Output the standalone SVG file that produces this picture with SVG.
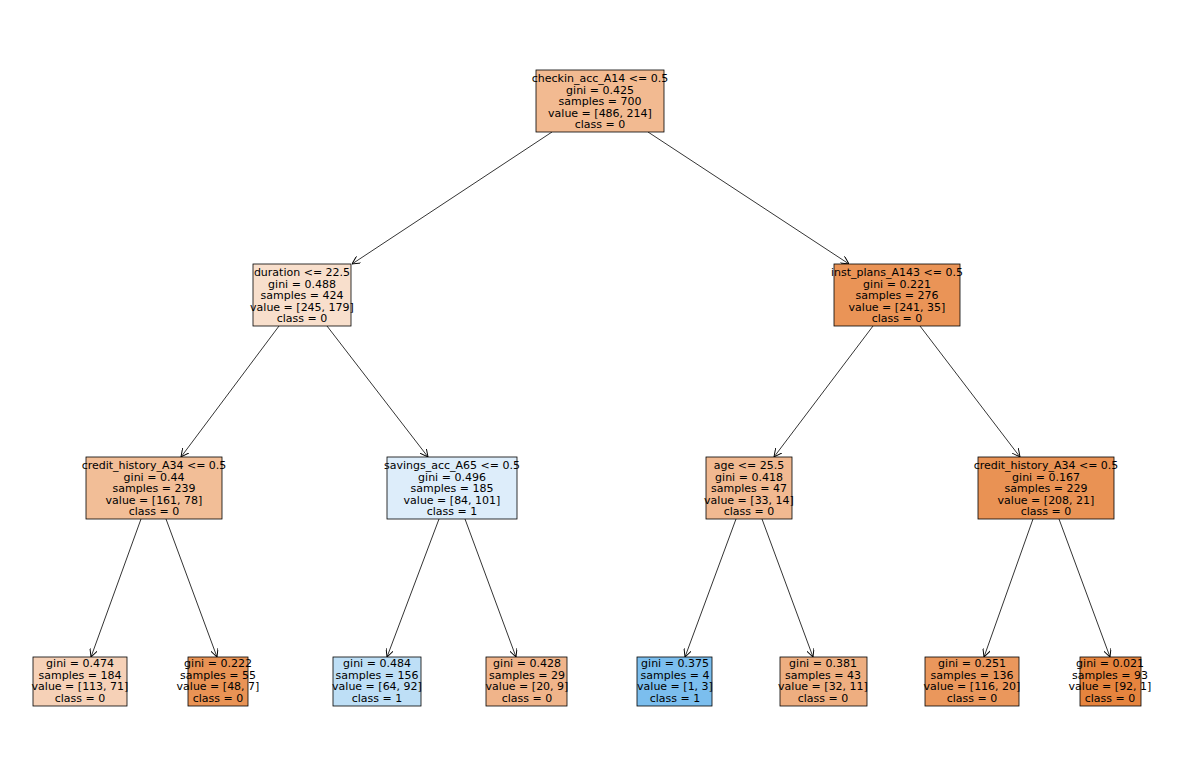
<svg xmlns="http://www.w3.org/2000/svg" width="1200" height="783" viewBox="0 0 1200 783">
<style>
rect{stroke:#000;stroke-width:0.8}
text{font-family:"DejaVu Sans",sans-serif;font-size:11px;text-anchor:middle;fill:#000}
.e line{stroke:#000;stroke-width:0.8;marker-end:url(#a)}
</style>
<defs><marker id="a" viewBox="0 0 10 10" refX="10" refY="5" markerWidth="8" markerHeight="8" orient="auto" markerUnits="userSpaceOnUse"><path d="M0,0L10,5L0,10" fill="none" stroke="#000" stroke-width="1.2"/></marker></defs>
<rect width="1200" height="783" fill="#fff" style="stroke:none"/>
<g class="e">
<line x1="552" y1="132" x2="352" y2="264"/>
<line x1="648" y1="132" x2="849" y2="264"/>
<line x1="279" y1="326" x2="181" y2="457"/>
<line x1="327" y1="326" x2="428" y2="457"/>
<line x1="873" y1="326" x2="774" y2="457"/>
<line x1="920" y1="326" x2="1020" y2="457"/>
<line x1="141" y1="519" x2="91" y2="657"/>
<line x1="166" y1="519" x2="217" y2="657"/>
<line x1="439" y1="519" x2="387" y2="657"/>
<line x1="465" y1="519" x2="516" y2="657"/>
<line x1="736" y1="519" x2="685" y2="657"/>
<line x1="762" y1="519" x2="813" y2="657"/>
<line x1="1033" y1="519" x2="984" y2="657"/>
<line x1="1059" y1="519" x2="1110" y2="657"/>
</g>
<g id="n0"><rect x="536" y="70" width="128" height="62" fill="#f2ba91"/><text x="600" y="82">checkin_acc_A14 &lt;= 0.5</text><text x="600" y="94">gini = 0.425</text><text x="600" y="105">samples = 700</text><text x="600" y="117">value = [486, 214]</text><text x="600" y="128">class = 0</text></g>
<g id="n1"><rect x="253" y="264" width="98" height="62" fill="#f8dfcc"/><text x="302" y="276">duration &lt;= 22.5</text><text x="302" y="288">gini = 0.488</text><text x="302" y="299">samples = 424</text><text x="302" y="311">value = [245, 179]</text><text x="302" y="322">class = 0</text></g>
<g id="n2"><rect x="834" y="264" width="126" height="62" fill="#ea9457"/><text x="897" y="276">inst_plans_A143 &lt;= 0.5</text><text x="897" y="288">gini = 0.221</text><text x="897" y="299">samples = 276</text><text x="897" y="311">value = [241, 35]</text><text x="897" y="322">class = 0</text></g>
<g id="n3"><rect x="86" y="457" width="136" height="62" fill="#f2be97"/><text x="154" y="469">credit_history_A34 &lt;= 0.5</text><text x="154" y="481">gini = 0.44</text><text x="154" y="492">samples = 239</text><text x="154" y="504">value = [161, 78]</text><text x="154" y="515">class = 0</text></g>
<g id="n4"><rect x="387" y="457" width="130" height="62" fill="#ddedfa"/><text x="452" y="469">savings_acc_A65 &lt;= 0.5</text><text x="452" y="481">gini = 0.496</text><text x="452" y="492">samples = 185</text><text x="452" y="504">value = [84, 101]</text><text x="452" y="515">class = 1</text></g>
<g id="n5"><rect x="706" y="457" width="86" height="62" fill="#f1b991"/><text x="749" y="469">age &lt;= 25.5</text><text x="749" y="481">gini = 0.418</text><text x="749" y="492">samples = 47</text><text x="749" y="504">value = [33, 14]</text><text x="749" y="515">class = 0</text></g>
<g id="n6"><rect x="978" y="457" width="136" height="62" fill="#e99254"/><text x="1046" y="469">credit_history_A34 &lt;= 0.5</text><text x="1046" y="481">gini = 0.167</text><text x="1046" y="492">samples = 229</text><text x="1046" y="504">value = [208, 21]</text><text x="1046" y="515">class = 0</text></g>
<g id="n7"><rect x="33" y="657" width="94" height="49" fill="#f6d1b7"/><text x="80" y="667">gini = 0.474</text><text x="80" y="679">samples = 184</text><text x="80" y="690">value = [113, 71]</text><text x="80" y="702">class = 0</text></g>
<g id="n8"><rect x="188" y="657" width="60" height="49" fill="#e99355"/><text x="218" y="667">gini = 0.222</text><text x="218" y="679">samples = 55</text><text x="218" y="690">value = [48, 7]</text><text x="218" y="702">class = 0</text></g>
<g id="n9"><rect x="333" y="657" width="88" height="49" fill="#bedff6"/><text x="377" y="667">gini = 0.484</text><text x="377" y="679">samples = 156</text><text x="377" y="690">value = [64, 92]</text><text x="377" y="702">class = 1</text></g>
<g id="n10"><rect x="486" y="657" width="81" height="49" fill="#f0b48a"/><text x="527" y="667">gini = 0.428</text><text x="527" y="679">samples = 29</text><text x="527" y="690">value = [20, 9]</text><text x="527" y="702">class = 0</text></g>
<g id="n11"><rect x="637" y="657" width="75" height="49" fill="#7bbeee"/><text x="675" y="667">gini = 0.375</text><text x="675" y="679">samples = 4</text><text x="675" y="690">value = [1, 3]</text><text x="675" y="702">class = 1</text></g>
<g id="n12"><rect x="780" y="657" width="87" height="49" fill="#eeae80"/><text x="823" y="667">gini = 0.381</text><text x="823" y="679">samples = 43</text><text x="823" y="690">value = [32, 11]</text><text x="823" y="702">class = 0</text></g>
<g id="n13"><rect x="925" y="657" width="94" height="49" fill="#ea975c"/><text x="972" y="667">gini = 0.251</text><text x="972" y="679">samples = 136</text><text x="972" y="690">value = [116, 20]</text><text x="972" y="702">class = 0</text></g>
<g id="n14"><rect x="1080" y="657" width="61" height="49" fill="#e6843e"/><text x="1110" y="667">gini = 0.021</text><text x="1110" y="679">samples = 93</text><text x="1110" y="690">value = [92, 1]</text><text x="1110" y="702">class = 0</text></g>
</svg>
